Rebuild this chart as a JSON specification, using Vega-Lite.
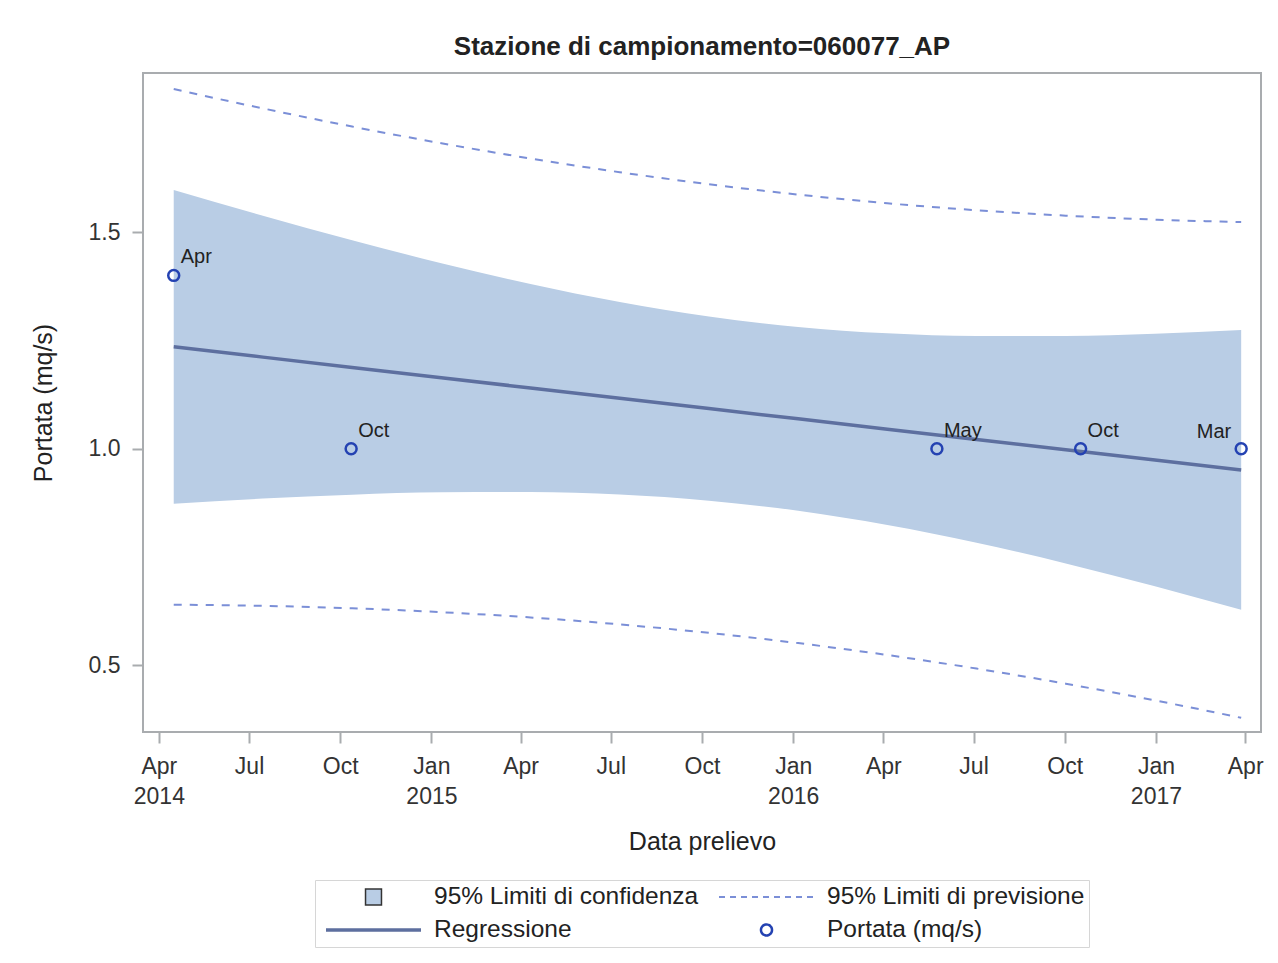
{
  "$schema": "https://vega.github.io/schema/vega-lite/v6.json",
  "width": 1118,
  "height": 659,
  "autosize": {"type": "none"},
  "padding": {"left": 143, "top": 73, "right": 17, "bottom": 231},
  "background": "white",
  "title": {
    "text": "Stazione di campionamento=060077_AP",
    "font": "Liberation Sans",
    "fontSize": 26,
    "fontWeight": "bold",
    "color": "#222222",
    "baseline": "alphabetic",
    "offset": -8,
    "anchor": "middle"
  },
  "datasets": {
    "banda": [
      {"data": "2014-04-16", "fit": 1.2351, "lcl": 0.8732, "ucl": 1.5970, "lpl": 0.6403, "upl": 1.8299},
      {"data": "2014-07-15", "fit": 1.2114, "lcl": 0.8850, "ucl": 1.5378, "lpl": 0.6375, "upl": 1.7853},
      {"data": "2014-10-13", "fit": 1.1876, "lcl": 0.8941, "ucl": 1.4811, "lpl": 0.6318, "upl": 1.7434},
      {"data": "2015-01-11", "fit": 1.1639, "lcl": 0.8996, "ucl": 1.4282, "lpl": 0.6229, "upl": 1.7049},
      {"data": "2015-04-11", "fit": 1.1402, "lcl": 0.9003, "ucl": 1.3801, "lpl": 0.6107, "upl": 1.6697},
      {"data": "2015-07-10", "fit": 1.1164, "lcl": 0.8943, "ucl": 1.3385, "lpl": 0.5947, "upl": 1.6381},
      {"data": "2015-10-08", "fit": 1.0927, "lcl": 0.8802, "ucl": 1.3052, "lpl": 0.5751, "upl": 1.6103},
      {"data": "2016-01-06", "fit": 1.0690, "lcl": 0.8569, "ucl": 1.2811, "lpl": 0.5515, "upl": 1.5865},
      {"data": "2016-04-05", "fit": 1.0452, "lcl": 0.8241, "ucl": 1.2663, "lpl": 0.5240, "upl": 1.5664},
      {"data": "2016-07-04", "fit": 1.0215, "lcl": 0.7831, "ucl": 1.2599, "lpl": 0.4927, "upl": 1.5503},
      {"data": "2016-10-02", "fit": 0.9978, "lcl": 0.7354, "ucl": 1.2602, "lpl": 0.4578, "upl": 1.5378},
      {"data": "2016-12-31", "fit": 0.9740, "lcl": 0.6827, "ucl": 1.2653, "lpl": 0.4193, "upl": 1.5287},
      {"data": "2017-03-28", "fit": 0.9511, "lcl": 0.6283, "ucl": 1.2739, "lpl": 0.3792, "upl": 1.5230}
    ],
    "osservazioni": [
      {"data": "2014-04-16", "portata": 1.4, "mese": "Apr"},
      {"data": "2014-10-12", "portata": 1.0, "mese": "Oct"},
      {"data": "2016-05-25", "portata": 1.0, "mese": "May"},
      {"data": "2016-10-17", "portata": 1.0, "mese": "Oct"},
      {"data": "2017-03-28", "portata": 1.0, "mese": "Mar"}
    ]
  },
  "config": {
    "font": "Liberation Sans",
    "view": {"stroke": "#a9acaf", "strokeWidth": 2},
    "axis": {
      "grid": false,
      "domain": false,
      "tickColor": "#a9acaf",
      "tickWidth": 2,
      "tickSize": 11,
      "labelFont": "Liberation Sans",
      "labelFontSize": 23,
      "labelColor": "#333333",
      "titleFont": "Liberation Sans",
      "titleFontSize": 25,
      "titleFontWeight": "normal",
      "titleColor": "#222222"
    },
    "legend": {"layout": {"bottom": {"anchor": "middle"}}}
  },
  "layer": [
    {
      "data": {"name": "banda"},
      "mark": {"type": "area", "interpolate": "monotone", "opacity": 1},
      "encoding": {
        "x": {
          "field": "data",
          "type": "temporal",
          "title": "Data prelievo",
          "scale": {"type": "utc", "domain": ["2014-03-16", "2017-04-17"], "nice": false},
          "axis": {
            "tickCount": {"interval": "month", "step": 3},
            "labelExpr": "(utcmonth(datum.value) === 0 || datum.index === 0) ? [utcFormat(datum.value, '%b'), utcFormat(datum.value, '%Y')] : utcFormat(datum.value, '%b')",
            "labelPadding": 12,
            "labelLineHeight": 30,
            "labelOverlap": false,
            "labelFlush": false,
            "titlePadding": 21
          }
        },
        "y": {
          "field": "lcl",
          "type": "quantitative",
          "title": "Portata (mq/s)",
          "scale": {"domain": [0.3464, 1.867], "nice": false, "zero": false},
          "axis": {"values": [0.5, 1.0, 1.5], "format": ".1f", "labelPadding": 12, "titlePadding": 32}
        },
        "y2": {"field": "ucl"},
        "color": {
          "datum": "95% Limiti di confidenza",
          "scale": {
            "domain": ["Portata (mq/s)", "Regressione", "95% Limiti di previsione", "95% Limiti di confidenza"],
            "range": ["#2442b2", "#5d6f9f", "#7b8fd7", "#b9cde5"]
          },
          "legend": null
        }
      }
    },
    {
      "data": {"name": "banda"},
      "mark": {"type": "line", "interpolate": "monotone", "strokeWidth": 2, "strokeDash": [8, 8]},
      "encoding": {
        "x": {"field": "data", "type": "temporal", "title": "Data prelievo"},
        "y": {"field": "upl", "type": "quantitative", "title": "Portata (mq/s)"},
        "color": {"datum": "95% Limiti di previsione", "legend": null}
      }
    },
    {
      "data": {"name": "banda"},
      "mark": {"type": "line", "interpolate": "monotone", "strokeWidth": 2, "strokeDash": [8, 8]},
      "encoding": {
        "x": {"field": "data", "type": "temporal", "title": "Data prelievo"},
        "y": {"field": "lpl", "type": "quantitative", "title": "Portata (mq/s)"},
        "color": {"datum": "95% Limiti di previsione", "legend": null}
      }
    },
    {
      "data": {"name": "banda"},
      "mark": {"type": "line", "strokeWidth": 3.5},
      "encoding": {
        "x": {"field": "data", "type": "temporal", "title": "Data prelievo"},
        "y": {"field": "fit", "type": "quantitative", "title": "Portata (mq/s)"},
        "color": {"datum": "Regressione", "legend": null}
      }
    },
    {
      "data": {"name": "osservazioni"},
      "mark": {"type": "point", "shape": "circle", "filled": false, "size": 120, "strokeWidth": 2.5},
      "encoding": {
        "x": {"field": "data", "type": "temporal", "title": "Data prelievo"},
        "y": {"field": "portata", "type": "quantitative", "title": "Portata (mq/s)"},
        "color": {"datum": "Portata (mq/s)", "legend": null},
        "opacity": {
          "datum": "Portata (mq/s)",
          "scale": {
            "domain": ["95% Limiti di confidenza", "95% Limiti di previsione", "Regressione", "Portata (mq/s)"],
            "range": [1, 1, 1, 1]
          },
          "legend": {
            "orient": "bottom",
            "direction": "horizontal",
            "columns": 2,
            "title": null,
            "offset": 26,
            "symbolSize": 9025,
            "clipHeight": 26,
            "labelFont": "Liberation Sans",
            "labelFontSize": 24.5,
            "labelColor": "#222222",
            "labelLimit": 500,
            "labelOffset": 11.5,
            "symbolOffset": 5.5,
            "columnPadding": 13,
            "rowPadding": 7,
            "padding": 4,
            "strokeColor": "#d6d6d6",
            "encoding": {
              "symbols": {
                "shape": {"value": {"expr": "(datum.value === '95% Limiti di confidenza' ? 'M-0.168,-0.168H0.168V0.168H-0.168Z' : (datum.value === 'Portata (mq/s)' ? 'M0.116,0A0.116,0.116,0,1,1,-0.116,0A0.116,0.116,0,1,1,0.116,0Z' : 'stroke'))"}},
                "fill": {"value": {"expr": "(datum.value === '95% Limiti di confidenza' ? '#b9cde5' : 'transparent')"}},
                "stroke": {"value": {"expr": "(datum.value === '95% Limiti di confidenza' ? '#333333' : (datum.value === '95% Limiti di previsione' ? '#7b8fd7' : (datum.value === 'Regressione' ? '#5d6f9f' : '#2442b2')))"}},
                "strokeWidth": {"value": {"expr": "(datum.value === '95% Limiti di confidenza' ? 1.5 : (datum.value === '95% Limiti di previsione' ? 2 : (datum.value === 'Regressione' ? 3.5 : 2.5)))"}},
                "strokeDash": {"value": {"expr": "(datum.value === '95% Limiti di previsione' ? [6, 5] : [1, 0])"}},
                "opacity": {"value": 1}
              }
            }
          }
        }
      }
    },
    {
      "data": {"name": "osservazioni"},
      "transform": [{"filter": "datum.mese !== 'Mar'"}],
      "mark": {"type": "text", "align": "left", "baseline": "alphabetic", "dx": 7, "dy": -12, "fontSize": 20, "font": "Liberation Sans", "color": "#222222"},
      "encoding": {
        "x": {"field": "data", "type": "temporal", "title": "Data prelievo"},
        "y": {"field": "portata", "type": "quantitative", "title": "Portata (mq/s)"},
        "text": {"field": "mese"}
      }
    },
    {
      "data": {"name": "osservazioni"},
      "transform": [{"filter": "datum.mese === 'Mar'"}],
      "mark": {"type": "text", "align": "right", "baseline": "alphabetic", "dx": -10, "dy": -11, "fontSize": 20, "font": "Liberation Sans", "color": "#222222"},
      "encoding": {
        "x": {"field": "data", "type": "temporal", "title": "Data prelievo"},
        "y": {"field": "portata", "type": "quantitative", "title": "Portata (mq/s)"},
        "text": {"field": "mese"}
      }
    }
  ]
}
